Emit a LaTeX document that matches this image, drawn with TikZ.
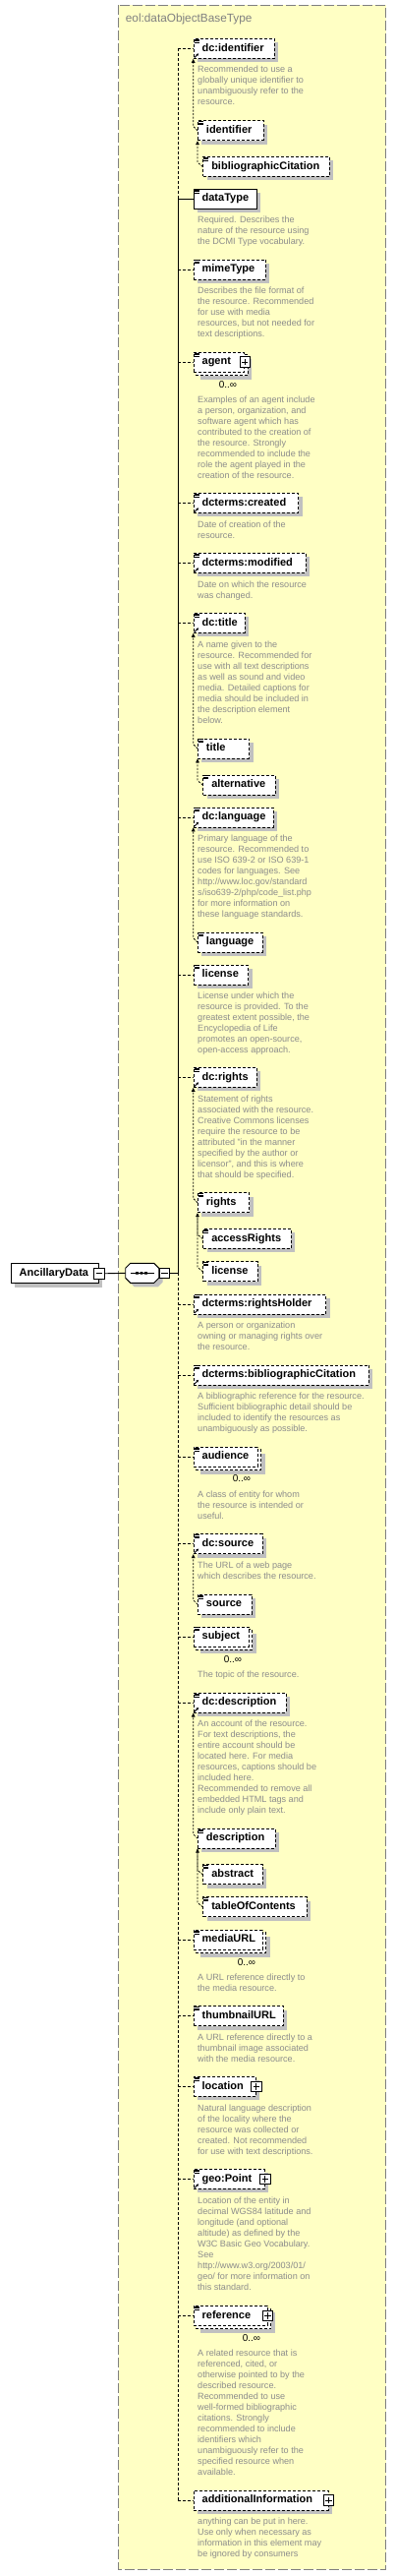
\documentclass[tikz,border=0pt]{standalone}
\usepackage{fontspec}
\setmainfont{Liberation Sans}
\usetikzlibrary{shadows,arrows.meta}
\definecolor{yel}{RGB}{255,255,196}
\definecolor{shg}{RGB}{192,192,192}
\definecolor{dgray}{RGB}{140,140,140}
\definecolor{tgray}{RGB}{128,128,128}
\pgfdeclarelayer{back}
\pgfdeclarelayer{bg}
\pgfsetlayers{back,bg,main}
\newcommand\eicon[1]{\draw[line width=0.6pt] ([shift={(1,1.2)}]#1.north west) -- ++(5,0) ([shift={(1,2.7)}]#1.north west) -- ++(5,0) ([shift={(1,4.2)}]#1.north west) -- ++(5,0);}
\newcommand\refarr[1]{\draw[line width=0.9pt,-{Stealth[length=2.8pt,width=2.8pt]}] ([shift={(1.2,-1.4)}]#1.south west) -- ++(4.2,-4.2);}
\newcommand\mframe[1]{\begin{pgfonlayer}{bg}\fill[shg] ([shift={(7,7)}]#1.north west) rectangle ([shift={(7,7)}]#1.south east);\draw[fill=white,line width=0.9pt,dash pattern=on 3pt off 2pt] ([shift={(3,3)}]#1.north west) rectangle ([shift={(3,3)}]#1.south east);\end{pgfonlayer}}
\begin{document}
\begin{tikzpicture}[x=1pt,y=-1pt,
  lbl/.style={font=\fontsize{11}{13}\selectfont\bfseries},
  basebox/.style={anchor=north west, minimum height=20pt, inner sep=0pt, align=left, fill=white, draw=black, line width=0.9pt, lbl, text height=8pt, text depth=2.5pt},
  shad/.style={drop shadow={shadow xshift=4pt, shadow yshift=-4pt, fill=shg, opacity=1}},
  sbox/.style={basebox, shad},
  dbox/.style={basebox, shad, dash pattern=on 3pt off 2pt},
  mbox/.style={basebox, dash pattern=on 3pt off 2pt},
  conn/.style={line width=0.9pt},
  dconn/.style={conn, dash pattern=on 3pt off 2pt},
  subn/.style={line width=0.8pt, dash pattern=on 2pt off 1.5pt},
  sub/.style={subn, -{Triangle[length=4pt,width=3.6pt]}},
  desc/.style={anchor=north west, inner sep=0pt, align=left, font=\fontsize{9.1}{11}\selectfont, text=dgray},
  occ/.style={inner sep=0pt, font=\fontsize{10}{12}\selectfont},
  pbox/.style={draw, fill=white, line width=0.9pt, minimum size=10.5pt, inner sep=0pt,
    path picture={\draw[line width=0.9pt] ([xshift=-3.2pt]path picture bounding box.center) -- ([xshift=3.2pt]path picture bounding box.center) ([yshift=-3.2pt]path picture bounding box.center) -- ([yshift=3.2pt]path picture bounding box.center);}},
  minbox/.style={draw, fill=white, line width=0.9pt, minimum size=10.5pt, inner sep=0pt,
    path picture={\draw[line width=0.9pt] ([xshift=-3.2pt]path picture bounding box.center) -- ([xshift=3.2pt]path picture bounding box.center);}}
]
\useasboundingbox (0,0) rectangle (403,2619);
\begin{pgfonlayer}{back}
\draw[draw=tgray, fill=yel, line width=1pt, dash pattern=on 10pt off 3pt] (120.7,5.3) rectangle (392.7,2612);
\end{pgfonlayer}
\node[anchor=west, inner sep=0pt, font=\fontsize{11.8}{14}\selectfont, text=tgray] (ttl) at (127.7,19) {eol:dataObjectBaseType};

% root and sequence
\node[sbox, text width=89.3pt] (anc) at (10.7,1284.3) {\hspace*{8.6pt}AncillaryData};
\node[minbox] (ancm) at (anc.east) {};
\coordinate (seqin) at (127.7,1294.3);
\coordinate (seqj) at (181.3,1294.3);
\draw[line width=0.9pt, fill=white, drop shadow={shadow xshift=4pt, shadow yshift=-4pt, fill=shg, opacity=1}] (132.7,1284.3) -- (156.7,1284.3) -- (161.7,1289.3) -- (161.7,1299.3) -- (156.7,1304.3) -- (132.7,1304.3) -- (127.7,1299.3) -- (127.7,1289.3) -- cycle;
\draw[line width=0.9pt] (132.5,1294.3) -- (156.5,1294.3);
\fill (138.2,1293) rectangle ++(2.6,2.6) (142.7,1293) rectangle ++(2.6,2.6) (147.2,1293) rectangle ++(2.6,2.6);
\node[minbox, anchor=west] (seqm) at (161.7,1294.3) {};
\draw[conn] (ancm.east) -- (seqin);
\draw[conn] (seqm.east) -- (seqj);

% elements
\node[dbox, text width=82.3pt] (e1) at (196.7,39) {\hspace*{8.5pt}dc:identifier}; \eicon{e1} \refarr{e1}
\node[dbox, text width=66.7pt] (e1a) at (201,122.3) {\hspace*{8.5pt}identifier}; \eicon{e1a}
\node[dbox, text width=128.7pt] (e1b) at (206.3,159) {\hspace*{8.5pt}bibliographicCitation}; \eicon{e1b}
\node[sbox, text width=64pt] (e2) at (196.7,191.7) {\hspace*{8.5pt}dataType}; \eicon{e2}
\node[dbox, text width=73.3pt] (e3) at (196.7,263.5) {\hspace*{8.5pt}mimeType}; \eicon{e3}
\node[mbox, text width=51.6pt] (e4) at (196.7,357.7) {\hspace*{8.5pt}agent}; \mframe{e4} \eicon{e4}
\node[pbox] (e4p) at (e4.east) {};
\node[occ] (o4) at (232,390.7) {0..∞};
\node[dbox, text width=106.6pt] (e5) at (196.7,501) {\hspace*{8.5pt}dcterms:created}; \eicon{e5} \refarr{e5}
\node[dbox, text width=114pt] (e6) at (196.7,562) {\hspace*{8.5pt}dcterms:modified}; \eicon{e6} \refarr{e6}
\node[dbox, text width=52pt] (e7) at (196.7,623) {\hspace*{8.5pt}dc:title}; \eicon{e7} \refarr{e7}
\node[dbox, text width=52.3pt] (e7a) at (201,750.5) {\hspace*{8.5pt}title}; \eicon{e7a}
\node[dbox, text width=73.7pt] (e7b) at (206.3,787.5) {\hspace*{8.5pt}alternative}; \eicon{e7b}
\node[dbox, text width=81pt] (e8) at (196.7,820.5) {\hspace*{8.5pt}dc:language}; \eicon{e8} \refarr{e8}
\node[dbox, text width=65.7pt] (e8a) at (201,947.5) {\hspace*{8.5pt}language}; \eicon{e8a}
\node[dbox, text width=55.6pt] (e9) at (196.7,980.5) {\hspace*{8.5pt}license}; \eicon{e9}
\node[dbox, text width=64pt] (e10) at (196.7,1085) {\hspace*{8.5pt}dc:rights}; \eicon{e10} \refarr{e10}
\node[dbox, text width=52.3pt] (e10a) at (201,1212.3) {\hspace*{8.5pt}rights}; \eicon{e10a}
\node[dbox, text width=89.4pt] (e10b) at (206.3,1249) {\hspace*{8.5pt}accessRights}; \eicon{e10b}
\node[dbox, text width=55.4pt] (e10c) at (206.3,1282.3) {\hspace*{8.5pt}license}; \eicon{e10c}
\node[dbox, text width=134.6pt] (e11) at (196.7,1315.5) {\hspace*{8.5pt}dcterms:rightsHolder}; \eicon{e11} \refarr{e11}
\node[dbox, text width=178.3pt] (e12) at (196.7,1387.5) {\hspace*{8.5pt}dcterms:bibliographicCitation}; \eicon{e12} \refarr{e12}
\node[mbox, text width=65pt] (e13) at (196.7,1470.7) {\hspace*{8.5pt}audience}; \mframe{e13} \eicon{e13}
\node[occ] (o13) at (246,1503.3) {0..∞};
\node[dbox, text width=70pt] (e14) at (196.7,1559.3) {\hspace*{8.5pt}dc:source}; \eicon{e14} \refarr{e14}
\node[dbox, text width=55pt] (e14a) at (201,1620.7) {\hspace*{8.5pt}source}; \eicon{e14a}
\node[mbox, text width=56pt] (e15) at (196.7,1653.5) {\hspace*{8.5pt}subject}; \mframe{e15} \eicon{e15}
\node[occ] (o15) at (237,1687) {0..∞};
\node[dbox, text width=94pt] (e16) at (196.7,1720.7) {\hspace*{8.5pt}dc:description}; \eicon{e16} \refarr{e16}
\node[dbox, text width=79pt] (e16a) at (201,1858.7) {\hspace*{8.5pt}description}; \eicon{e16a}
\node[dbox, text width=60.4pt] (e16b) at (206.3,1895.3) {\hspace*{8.5pt}abstract}; \eicon{e16b}
\node[dbox, text width=105.4pt] (e16c) at (206.3,1928.3) {\hspace*{8.5pt}tableOfContents}; \eicon{e16c}
\node[mbox, text width=70pt] (e17) at (196.7,1961.7) {\hspace*{8.5pt}mediaURL}; \mframe{e17} \eicon{e17}
\node[occ] (o17) at (251,1995) {0..∞};
\node[dbox, text width=91.3pt] (e18) at (196.7,2039.3) {\hspace*{8.5pt}thumbnailURL}; \eicon{e18}
\node[dbox, text width=63.3pt] (e19) at (196.7,2111) {\hspace*{8.5pt}location}; \eicon{e19}
\node[pbox] (e19p) at (e19.east) {};
\node[dbox, text width=72.1pt] (e20) at (196.7,2205) {\hspace*{8.5pt}geo:Point}; \eicon{e20} \refarr{e20}
\node[pbox] (e20p) at (e20.east) {};
\node[mbox, text width=75pt] (e21) at (196.7,2344) {\hspace*{8.5pt}reference}; \mframe{e21} \eicon{e21}
\node[pbox] (e21p) at (e21.east) {};
\node[occ] (o21) at (256,2376.7) {0..∞};
\node[dbox, text width=137pt] (e22) at (196.7,2531.7) {\hspace*{8.5pt}additionalInformation};
\node[pbox] (e22p) at (e22.east) {};

% sequence connectors
\draw[dconn] (e1.west -| seqj) -- (e2.west -| seqj);
\draw[conn] (e2.west -| seqj) -- (seqj);
\draw[dconn] (seqj) -- (e22.west -| seqj);
\draw[conn] (e2.west -| seqj) -- (e2.west);
\foreach \n in {e1,e3,e4,e5,e6,e7,e8,e9,e10,e11,e12,e13,e14,e15,e16,e17,e18,e19,e20,e21,e22}
  \draw[dconn] (\n.west -| seqj) -- (\n.west);

% substitution groups
\draw[sub] (e1a.west) -- ++(-4.3,-4.3) -- (e1.south west);
\draw[sub] (e1b.west) -- ++(-5.3,-4.3) -- (e1a.south west);
\draw[sub] (e7a.west) -- ++(-4.3,-4.3) -- (e7.south west);
\draw[sub] (e7b.west) -- ++(-5.3,-4.3) -- (e7a.south west);
\draw[sub] (e8a.west) -- ++(-4.3,-4.3) -- (e8.south west);
\draw[sub] (e10a.west) -- ++(-4.3,-4.3) -- (e10.south west);
\draw[sub] (e10b.west) -- ++(-5.3,-4.3) -- (e10a.south west);
\draw[subn] (e10c.west) -- ++(-5.3,-4.3) -- (e10a.south west);
\draw[sub] (e14a.west) -- ++(-4.3,-4.3) -- (e14.south west);
\draw[sub] (e16a.west) -- ++(-4.3,-4.3) -- (e16.south west);
\draw[sub] (e16b.west) -- ++(-5.3,-4.3) -- (e16a.south west);
\draw[subn] (e16c.west) -- ++(-5.3,-4.3) -- (e16a.south west);

% descriptions
\node[desc] (d1) at (201,65.5) {\rule{0pt}{8pt}Recommended to use a\\globally unique identifier to\\unambiguously refer to the\\resource.};
\node[desc] (d2) at (201,217.8) {\rule{0pt}{8pt}Required. Describes the\\nature of the resource using\\the DCMI Type vocabulary.};
\node[desc] (d3) at (201,289.8) {\rule{0pt}{8pt}Describes the file format of\\the resource. Recommended\\for use with media\\resources, but not needed for\\text descriptions.};
\node[desc] (d4) at (201,401.5) {\rule{0pt}{8pt}Examples of an agent include\\a person, organization, and\\software agent which has\\contributed to the creation of\\the resource. Strongly\\recommended to include the\\role the agent played in the\\creation of the resource.};
\node[desc] (d5) at (201,528.2) {\rule{0pt}{8pt}Date of creation of the\\resource.};
\node[desc] (d6) at (201,589.2) {\rule{0pt}{8pt}Date on which the resource\\was changed.};
\node[desc] (d7) at (201,650.5) {\rule{0pt}{8pt}A name given to the\\resource. Recommended for\\use with all text descriptions\\as well as sound and video\\media. Detailed captions for\\media should be included in\\the description element\\below.};
\node[desc] (d8) at (201,847.2) {\rule{0pt}{8pt}Primary language of the\\resource. Recommended to\\use ISO 639-2 or ISO 639-1\\codes for languages. See\\http://www.loc.gov/standard\\s/iso639-2/php/code\_list.php\\for more information on\\these language standards.};
\node[desc] (d9) at (201,1007.2) {\rule{0pt}{8pt}License under which the\\resource is provided. To the\\greatest extent possible, the\\Encyclopedia of Life\\promotes an open-source,\\open-access approach.};
\node[desc] (d10) at (201,1112.2) {\rule{0pt}{8pt}Statement of rights\\associated with the resource.\\Creative Commons licenses\\require the resource to be\\attributed "in the manner\\specified by the author or\\licensor", and this is where\\that should be specified.};
\node[desc] (d11) at (201,1342.5) {\rule{0pt}{8pt}A person or organization\\owning or managing rights over\\the resource.};
\node[desc] (d12) at (201,1414.2) {\rule{0pt}{8pt}A bibliographic reference for the resource.\\Sufficient bibliographic detail should be\\included to identify the resources as\\unambiguously as possible.};
\node[desc] (d13) at (201,1514.2) {\rule{0pt}{8pt}A class of entity for whom\\the resource is intended or\\useful.};
\node[desc] (d14) at (201,1586.2) {\rule{0pt}{8pt}The URL of a web page\\which describes the resource.};
\node[desc] (d15) at (201,1697.2) {\rule{0pt}{8pt}The topic of the resource.};
\node[desc] (d16) at (201,1747.2) {\rule{0pt}{8pt}An account of the resource.\\For text descriptions, the\\entire account should be\\located here. For media\\resources, captions should be\\included here.\\Recommended to remove all\\embedded HTML tags and\\include only plain text.};
\node[desc] (d17) at (201,2005.5) {\rule{0pt}{8pt}A URL reference directly to\\the media resource.};
\node[desc] (d18) at (201,2066.5) {\rule{0pt}{8pt}A URL reference directly to a\\thumbnail image associated\\with the media resource.};
\node[desc] (d19) at (201,2138.2) {\rule{0pt}{8pt}Natural language description\\of the locality where the\\resource was collected or\\created. Not recommended\\for use with text descriptions.};
\node[desc] (d20) at (201,2232.2) {\rule{0pt}{8pt}Location of the entity in\\decimal WGS84 latitude and\\longitude (and optional\\altitude) as defined by the\\W3C Basic Geo Vocabulary.\\See\\http://www.w3.org/2003/01/\\geo/ for more information on\\this standard.};
\node[desc] (d21) at (201,2387.2) {\rule{0pt}{8pt}A related resource that is\\referenced, cited, or\\otherwise pointed to by the\\described resource.\\Recommended to use\\well-formed bibliographic\\citations. Strongly\\recommended to include\\identifiers which\\unambiguously refer to the\\specified resource when\\available.};
\node[desc] (d22) at (201,2558.5) {\rule{0pt}{8pt}anything can be put in here.\\Use only when necessary as\\information in this element may\\be ignored by consumers};
\end{tikzpicture}
\end{document}
